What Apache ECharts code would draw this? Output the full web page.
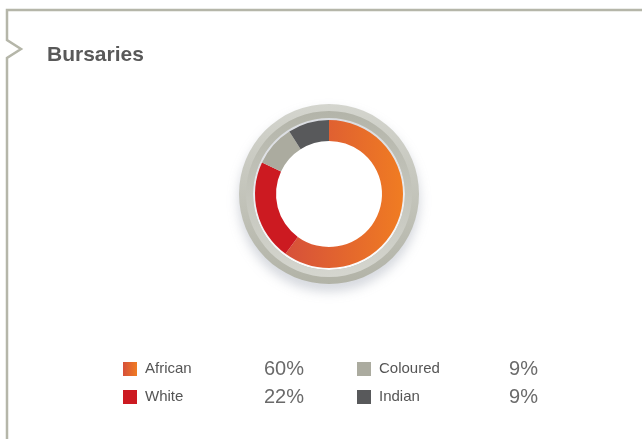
<!DOCTYPE html>
<html>
<head>
<meta charset="utf-8">
<script src="https://cdn.jsdelivr.net/npm/echarts@6/dist/echarts.min.js"></script>
<style>
  html, body { margin: 0; padding: 0; background: #ffffff; }
  #chart { width: 642px; height: 439px; }
</style>
</head>
<body>
<div id="chart"></div>
<script>
// Bursaries split by population group
const groups = ['African', 'White', 'Coloured', 'Indian'];
const shares = [60, 22, 9, 9];
const legendRowA = ['African', 'Coloured'];
const legendRowB = ['White', 'Indian'];

const africanFill = {
  type: 'linear', x: 0, y: 0, x2: 1, y2: 0,
  colorStops: [{ offset: 0, color: '#d6503a' }, { offset: 1, color: '#f07c22' }]
};
const fills = [africanFill, '#cc1a21', '#abab9f', '#58595b'];

const shareOf = {};
groups.forEach((g, i) => { shareOf[g] = shares[i]; });

const chart = echarts.init(document.getElementById('chart'), null, { renderer: 'canvas' });

const frameColor = '#b5b6a9';
const centre = [329, 194];
const font = 'Liberation Sans, Arial, sans-serif';

function legendBlock(names, top) {
  return {
    data: names,
    left: 123,
    top: top,
    padding: 0,
    orient: 'horizontal',
    icon: 'rect',
    itemWidth: 14,
    itemHeight: 14,
    itemGap: 53,
    selectedMode: false,
    formatter: name => '{n|' + name + '}{p|' + shareOf[name] + '%}',
    textStyle: {
      rich: {
        n: { width: 106, padding: [0, 0, 0, 3], fontSize: 15, color: '#555555', fontFamily: font },
        p: { width: 53, align: 'right', fontSize: 20, color: '#6a6a6a', fontFamily: font }
      }
    }
  };
}

function vGrad(top, bottom) {
  return {
    type: 'linear', x: 0, y: 0, x2: 0, y2: 1,
    colorStops: [{ offset: 0, color: top }, { offset: 1, color: bottom }]
  };
}

chart.setOption({
  animation: false,
  title: {
    text: 'Bursaries',
    left: 47,
    top: 45,
    padding: 0,
    textStyle: { fontSize: 21, fontWeight: 'bold', color: '#595959', fontFamily: font }
  },
  legend: [legendBlock(legendRowA, 359), legendBlock(legendRowB, 387)],
  graphic: [
    {
      type: 'polyline',
      silent: true,
      shape: { points: [[642, 10], [7, 10], [7, 40], [21, 49], [7, 58], [7, 439]] },
      style: { stroke: frameColor, lineWidth: 2.5, fill: null }
    }
  ],
  series: [
    {
      // outer bezel, lit from above
      type: 'pie',
      silent: true,
      center: centre,
      radius: [76, 90],
      label: { show: false },
      labelLine: { show: false },
      itemStyle: {
        color: vGrad('#d4d5ce', '#b2b3a7'),
        shadowBlur: 12,
        shadowOffsetY: 7,
        shadowColor: 'rgba(110,120,140,0.32)'
      },
      data: [{ value: 1, name: '' }]
    },
    {
      // inner bevel band, shaded the other way
      type: 'pie',
      silent: true,
      center: centre,
      radius: [76, 83],
      label: { show: false },
      labelLine: { show: false },
      itemStyle: { color: vGrad('#b3b4a9', '#d5d6cf') },
      data: [{ value: 1, name: '' }]
    },
    {
      type: 'pie',
      silent: true,
      center: centre,
      radius: [53, 74],
      startAngle: 90,
      clockwise: true,
      label: { show: false },
      labelLine: { show: false },
      data: groups.map((g, i) => ({ name: g, value: shares[i], itemStyle: { color: fills[i] } }))
    }
  ]
});
</script>
</body>
</html>
